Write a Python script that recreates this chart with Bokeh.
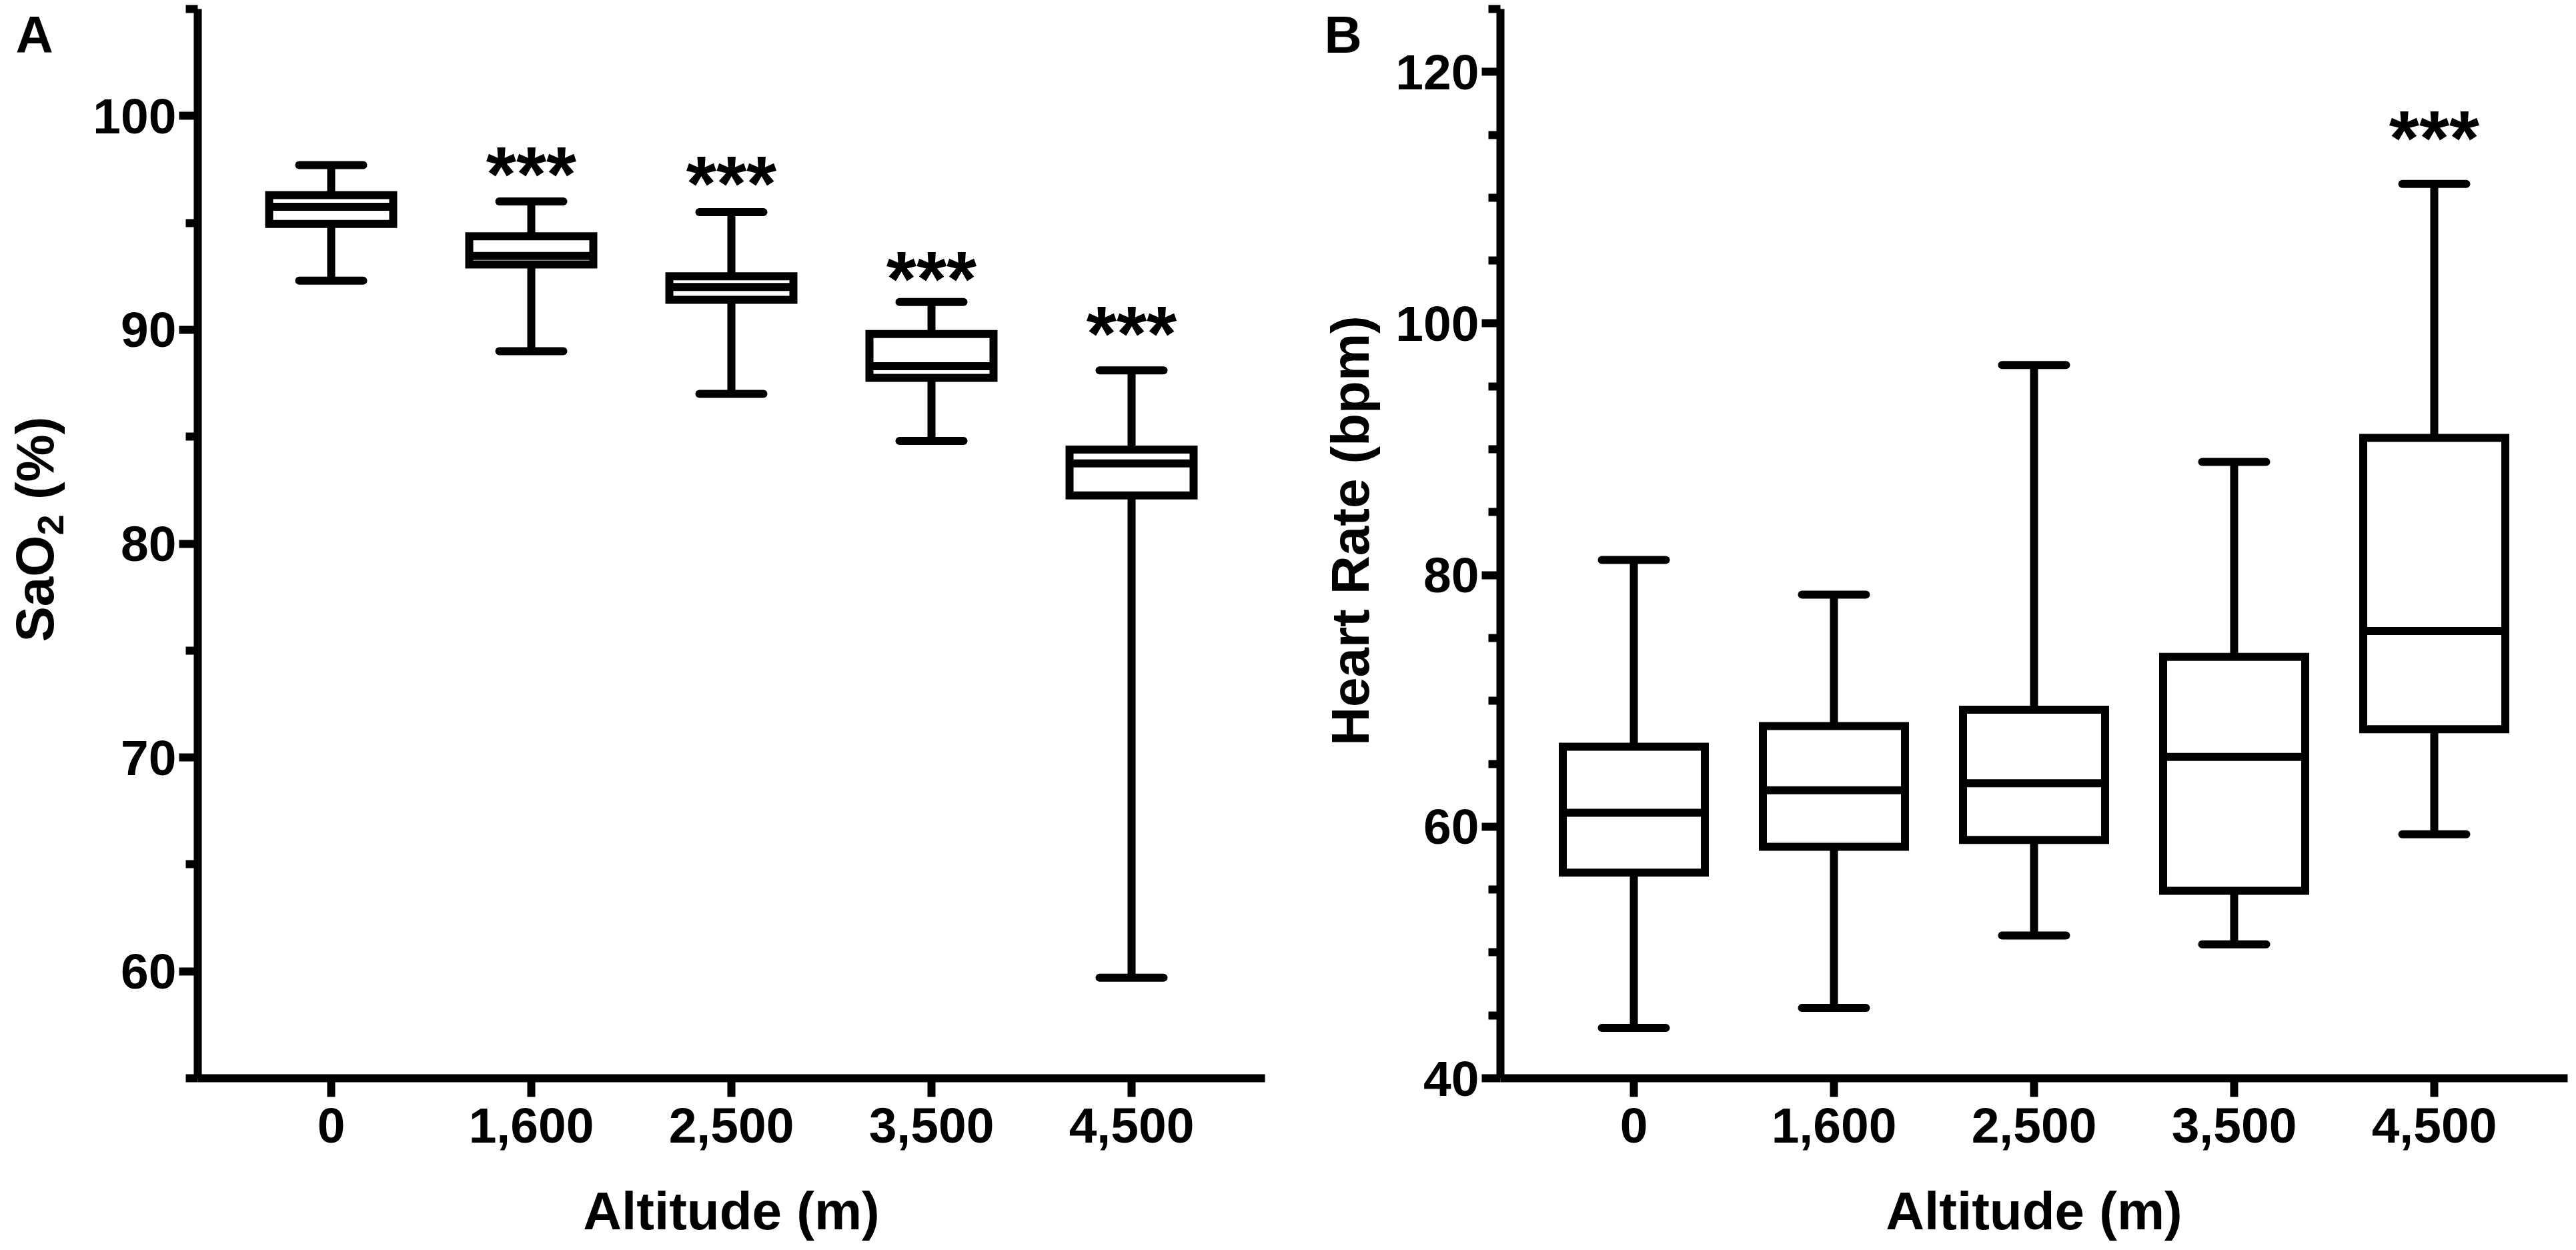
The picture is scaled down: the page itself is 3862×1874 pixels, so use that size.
import math
from bokeh.plotting import figure
from bokeh.models import Range1d, FixedTicker
from bokeh.layouts import row
from bokeh.embed import file_html
from bokeh.resources import INLINE
from bokeh.core.properties import value

# ---------------- data ----------------
altitudes = ["0", "1,600", "2,500", "3,500", "4,500"]

sao2_low = [92.3, 89.0, 87.0, 84.8, 59.7]
sao2_q1 = [94.95, 93.05, 91.4, 87.75, 82.25]
sao2_med = [95.75, 93.45, 92.0, 88.3, 83.75]
sao2_q3 = [96.3, 94.37, 92.5, 89.8, 84.4]
sao2_high = [97.7, 96.0, 95.5, 91.3, 88.1]
sao2_sig = ["", "***", "***", "***", "***"]
sao2_sig_y = [None, 97.72, 97.29, 92.83, 90.27]

hr_low = [44.0, 45.6, 51.35, 50.65, 59.4]
hr_q1 = [56.35, 58.4, 58.95, 54.9, 67.75]
hr_med = [61.1, 62.9, 63.45, 65.55, 75.55]
hr_q3 = [66.35, 68.0, 69.3, 73.5, 90.9]
hr_high = [81.2, 78.45, 96.7, 89.0, 111.1]
hr_sig = ["", "", "", "", "***"]
hr_sig_y = [None, None, None, None, 115.5]

sao2_major = [60, 70, 80, 90, 100]
sao2_minor = [55, 65, 75, 85, 95, 105]
hr_major = [40, 60, 80, 100, 120]
hr_minor = [45, 50, 55, 65, 70, 75, 85, 90, 95, 105, 110, 115, 125]

FONT = "Liberation Sans"
LW = 12
H = 1874
XU = 300.0          # pixels per category step
FT, FB = 13, 1616   # pixel rows of the plotting area's top and bottom
K = 0.36            # renderer's baseline shift (fraction of font size)
TITLE_PX = 80


def make_panel(W, L, yr, majors, minors, ytitle_parts, low, q1, med, q3, high,
               sig, sig_y, box_w, tag, tag_px):
    lo, hi = yr
    YU = (FB - FT) / (hi - lo)
    xs0 = -2 / 3 - L / XU
    xs1 = xs0 + W / XU
    ys1 = hi + FT / YU
    ys0 = lo - (H - FB) / YU

    def px_x(px):
        return xs0 + px / XU

    def px_y(py):
        return ys1 - py / YU

    p = figure(width=W, height=H, x_range=Range1d(xs0, xs1), y_range=Range1d(ys0, ys1),
               output_backend="svg", toolbar_location=None, min_border=0,
               min_border_left=0, min_border_right=0, min_border_top=0,
               min_border_bottom=0)
    p.outline_line_color = None
    p.grid.visible = False
    p.background_fill_color = "white"
    p.border_fill_color = "white"

    xs = list(range(len(altitudes)))

    for ax in (p.xaxis[0], p.yaxis[0]):
        ax.axis_line_width = LW
        ax.axis_line_color = "black"
        ax.major_tick_line_width = LW
        ax.minor_tick_line_width = LW
        ax.major_tick_in = 0
        ax.minor_tick_in = 0
        ax.major_tick_out = 28
        ax.minor_tick_out = 18
        ax.major_label_text_font = FONT
        ax.major_label_text_font_style = "bold"
        ax.major_label_text_font_size = "75px"
        ax.major_label_text_color = "black"

    xa = p.xaxis[0]
    xa.fixed_location = lo
    xa.bounds = (-2 / 3, len(altitudes) - 1 + 2 / 3)
    xa.ticker = FixedTicker(ticks=xs)
    xa.major_label_overrides = {i: a for i, a in zip(xs, altitudes)}
    xa.minor_tick_line_color = None
    xa.major_label_standoff = 16

    ya = p.yaxis[0]
    ya.fixed_location = -2 / 3
    ya.bounds = (lo, hi)
    ya.ticker = FixedTicker(ticks=majors, minor_ticks=minors)
    ya.major_label_standoff = 4

    cap_w = 0.32
    # whiskers
    p.segment(x0=xs, x1=xs, y0=q3, y1=high, line_width=LW, line_color="black")
    p.segment(x0=xs, x1=xs, y0=q1, y1=low, line_width=LW, line_color="black")
    p.segment(x0=[x - cap_w / 2 for x in xs], x1=[x + cap_w / 2 for x in xs],
              y0=high, y1=high, line_width=LW, line_color="black", line_cap="round")
    p.segment(x0=[x - cap_w / 2 for x in xs], x1=[x + cap_w / 2 for x in xs],
              y0=low, y1=low, line_width=LW, line_color="black", line_cap="round")
    # boxes
    p.vbar(x=xs, width=box_w, bottom=q1, top=q3, fill_color="white",
           line_color="black", line_width=LW, line_join="miter")
    p.segment(x0=[x - box_w / 2 for x in xs], x1=[x + box_w / 2 for x in xs],
              y0=med, y1=med, line_width=LW, line_color="black")

    sx = [x for x, s in zip(xs, sig) if s]
    sy = [y for y, s in zip(sig_y, sig) if s]
    st = [s for s in sig if s]
    p.text(x=sx, y=sy, text=st, text_font=value(FONT), text_font_style="bold",
           text_font_size="116px", text_align="center", text_baseline="alphabetic",
           text_color="black", y_offset=15)

    # x-axis title
    p.text(x=[(xs[0] + xs[-1]) / 2], y=[px_y(1844 - K * TITLE_PX)], text=["Altitude (m)"],
           text_font=value(FONT), text_font_style="bold",
           text_font_size=f"{TITLE_PX}px", text_align="center",
           text_baseline="alphabetic", text_color="black")
    # y-axis title, possibly in pieces (text, size, baseline_px, start_py, align)
    for txt, size, base_px, py, align in ytitle_parts:
        p.text(x=[px_x(base_px - K * size)], y=[px_y(py)], text=[txt],
               angle=math.pi / 2, text_font=value(FONT), text_font_style="bold",
               text_font_size=f"{size}px", text_align=align,
               text_baseline="alphabetic", text_color="black")
    # panel letter
    p.text(x=[px_x(tag_px)], y=[px_y(80 - K * 78)], text=[tag], text_font=value(FONT),
           text_font_style="bold", text_font_size="78px", text_align="left",
           text_baseline="alphabetic", text_color="black")
    return p


# SaO2 title: "SaO" + subscript "2" + " (%)", running bottom to top
w_sao = (667 + 556 + 778) / 1000 * TITLE_PX
w_sub = 0.556 * 56
w_space = 0.278 * TITLE_PX
start_a = 962
sao2_title = [
    ("SaO", TITLE_PX, 81, start_a, "left"),
    ("2", 56, 96, start_a - w_sao, "left"),
    ("(%)", TITLE_PX, 81, start_a - w_sao - w_sub - w_space, "left"),
]
hr_title = [("Heart Rate (bpm)", TITLE_PX, 2053 - 1938, 795, "center")]

pa = make_panel(1938, 296, (55, 105), sao2_major, sao2_minor, sao2_title,
                sao2_low, sao2_q1, sao2_med, sao2_q3, sao2_high, sao2_sig, sao2_sig_y,
                0.62, "A", 23)
pb = make_panel(1924, 311, (40, 125), hr_major, hr_minor, hr_title,
                hr_low, hr_q1, hr_med, hr_q3, hr_high, hr_sig, hr_sig_y,
                0.71, "B", 47)

layout = row(pa, pb)
open("out.html", "w").write(file_html(layout, INLINE))
